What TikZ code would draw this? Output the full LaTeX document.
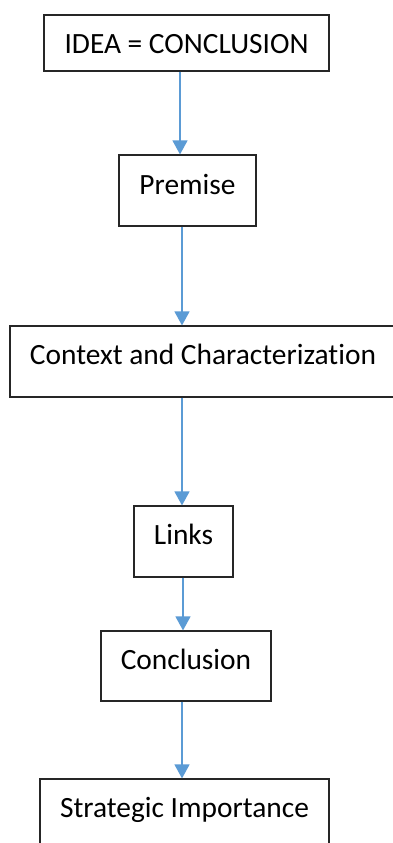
\documentclass[tikz,border=0pt]{standalone}
\usepackage{fontspec}
\setmainfont[RawFeature=-liga]{Carlito}
\usetikzlibrary{arrows.meta}
\definecolor{flowblue}{HTML}{5B9BD5}
\definecolor{boxline}{HTML}{262626}
\tikzset{
  stepbox/.style={draw=boxline, line width=1.2pt, rectangle, inner xsep=0pt, inner ysep=0pt,
    anchor=base, font=\fontsize{29.4}{35}\selectfont, text=black},
  flow/.style={draw=flowblue, line width=1.4pt, -{Triangle[width=15pt,length=14pt]}}
}
\begin{document}
\begin{tikzpicture}[x=1pt,y=-1pt]
  \useasboundingbox (0,0) rectangle (393,843);
  \clip (0,0) rectangle (393,843);
  \fill[white] (0,0) rectangle (393,843);

  % boxes: placed by text baseline; text height/depth set the top and bottom edges
  \node[stepbox, minimum width=285pt, text height=38pt, text depth=18pt] (idea) at (186.5,53) {IDEA = CONCLUSION};
  \node[stepbox, minimum width=137pt, text height=39pt, text depth=32pt] (premise) at (187.5,194) {Premise};
  \node[stepbox, minimum width=386pt, text height=38pt, text depth=33pt] (context) at (203,364) {Context and Characterization};
  \node[stepbox, minimum width=99pt, text height=38pt, text depth=33pt] (links) at (183.5,544) {Links};
  \node[stepbox, minimum width=170pt, text height=38pt, text depth=32pt] (conclusion) at (186,669) {Conclusion};
  \node[stepbox, minimum width=289pt, text height=38pt, text depth=40pt] (strategic) at (184.5,817) {Strategic Importance};

  % columns of the connectors
  \coordinate (c1) at (180,0);
  \coordinate (c2) at (182,0);
  \coordinate (c3) at (182,0);
  \coordinate (c4) at (183,0);
  \coordinate (c5) at (182,0);

  \draw[flow] (idea.south -| c1) -- (premise.north -| c1);
  \draw[flow] (premise.south -| c2) -- (context.north -| c2);
  \draw[flow] (context.south -| c3) -- (links.north -| c3);
  \draw[flow] (links.south -| c4) -- (conclusion.north -| c4);
  \draw[flow] (conclusion.south -| c5) -- (strategic.north -| c5);
\end{tikzpicture}
\end{document}
